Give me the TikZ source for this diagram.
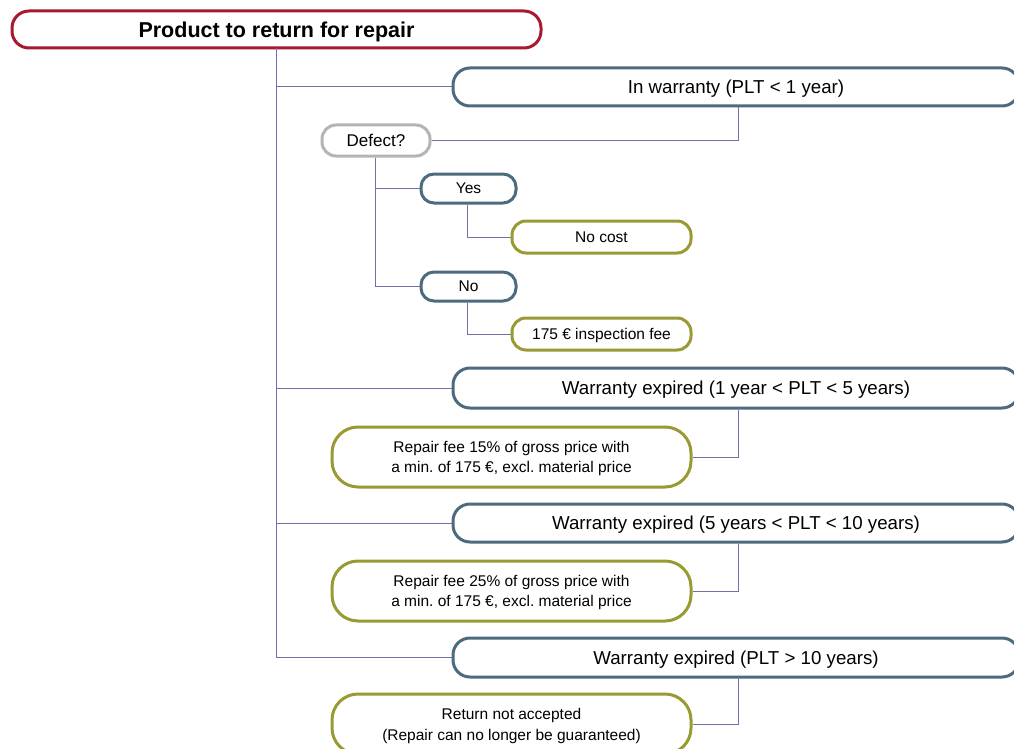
\documentclass[tikz,border=0pt]{standalone}
\usepackage{fontspec}
\setmainfont{Liberation Sans}
\frenchspacing
\definecolor{cred}{HTML}{A6192E}
\definecolor{csteel}{HTML}{4D6B7F}
\definecolor{colive}{HTML}{9A9A33}
\definecolor{cgray}{HTML}{B4B4B4}
\definecolor{cline}{HTML}{7070A8}
\begin{document}
\begin{tikzpicture}[x=1pt,y=-1pt,
  box/.style={draw,rectangle,line width=3pt,fill=white,inner sep=0pt,align=center,text=black,text depth=0pt},
  topbox/.style={box,draw=cred,minimum width=529pt,minimum height=37pt,rounded corners=17pt,font=\fontsize{21.5}{24}\selectfont\bfseries},
  wbox/.style={box,draw=csteel,minimum width=566pt,rounded corners=17pt,font=\fontsize{18.7}{21}\selectfont},
  qbox/.style={box,draw=cgray,minimum width=108pt,minimum height=31pt,rounded corners=14pt,font=\fontsize{17}{20}\selectfont},
  abox/.style={box,draw=csteel,minimum width=95pt,minimum height=29pt,rounded corners=13pt,font=\fontsize{15.5}{18}\selectfont},
  cbox/.style={box,draw=colive,minimum width=179pt,minimum height=32pt,rounded corners=14pt,font=\fontsize{15.5}{18}\selectfont},
  rbox/.style={box,draw=colive,minimum width=359pt,minimum height=60pt,rounded corners=26pt,font=\fontsize{15.5}{20}\selectfont},
  conn/.style={draw=cline,line width=1pt}]
\useasboundingbox (0,0) rectangle (1014,749);
\clip (0,0) rectangle (1014,749);
\fill[white] (0,0) rectangle (1014,749);
\coordinate (tr) at (276,48);
\node[topbox] (top) at (276.5,29.5) {Product to return for repair};
\node[wbox,minimum height=38pt] (inw) at (736,87) {In warranty (PLT < 1 year)};
\node[qbox] (defect) at (376,140.5) {Defect?};
\node[abox] (yes) at (468.5,188.5) {Yes};
\node[abox] (no) at (468.5,286.5) {No};
\node[cbox] (nocost) at (601.5,237) {No cost};
\node[cbox] (insp) at (601.5,334) {175 € inspection fee};
\node[wbox,minimum height=40pt] (w1) at (736,388) {Warranty expired (1 year < PLT < 5 years)};
\node[rbox] (r1) at (511.5,457) {Repair fee 15\% of gross price with\\a min. of 175 €, excl. material price};
\node[wbox,minimum height=38pt] (w2) at (736,523) {Warranty expired (5 years < PLT < 10 years)};
\node[rbox] (r2) at (511.5,591) {Repair fee 25\% of gross price with\\a min. of 175 €, excl. material price};
\node[wbox,minimum height=39pt] (w3) at (736,657.5) {Warranty expired (PLT > 10 years)};
\node[rbox,font=\fontsize{15.5}{21}\selectfont] (r3) at (511.5,724) {Return not accepted\\(Repair can no longer be guaranteed)};
\draw[conn] (tr) -- (tr |- w3.west) -- (w3.west);
\draw[conn] (tr |- inw.west) -- (inw.west);
\draw[conn] (tr |- w1.west) -- (w1.west);
\draw[conn] (tr |- w2.west) -- (w2.west);
\draw[conn] ([xshift=2pt]inw.south) |- (defect.east);
\draw[conn] ([xshift=-1pt]defect.south) |- (yes.west);
\draw[conn] ([xshift=-1pt]defect.south) |- (no.west);
\draw[conn] ([xshift=-1pt]yes.south) |- (nocost.west);
\draw[conn] ([xshift=-1pt]no.south) |- (insp.west);
\draw[conn] ([xshift=2pt]w1.south) |- (r1.east);
\draw[conn] ([xshift=2pt]w2.south) |- (r2.east);
\draw[conn] ([xshift=2pt]w3.south) |- (r3.east);
\end{tikzpicture}
\end{document}
